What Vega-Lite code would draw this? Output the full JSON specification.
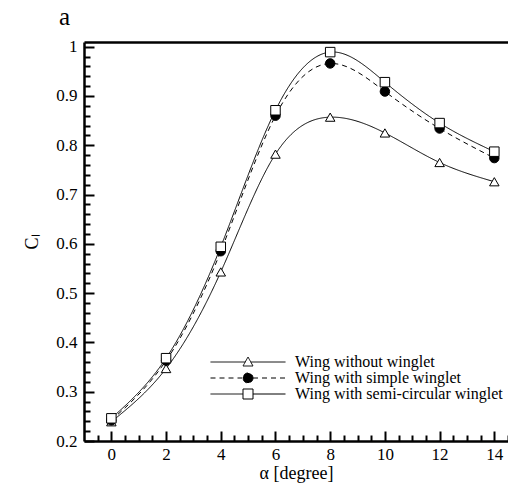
{
  "$schema": "https://vega.github.io/schema/vega-lite/v6.json",
  "width": 424,
  "height": 399,
  "autosize": "none",
  "padding": {"left": 84, "top": 42, "right": 0, "bottom": 51},
  "title": {"text": "a", "anchor": "start", "frame": "group", "dx": -25, "offset": 8, "fontSize": 25, "font": "Liberation Serif", "fontWeight": "normal", "color": "black"},
  "data": {"values": [
    {"alpha": 0, "cl": 0.239, "series": "Wing without winglet"},
    {"alpha": 2, "cl": 0.347, "series": "Wing without winglet"},
    {"alpha": 4, "cl": 0.543, "series": "Wing without winglet"},
    {"alpha": 6, "cl": 0.782, "series": "Wing without winglet"},
    {"alpha": 8, "cl": 0.857, "series": "Wing without winglet"},
    {"alpha": 10, "cl": 0.825, "series": "Wing without winglet"},
    {"alpha": 12, "cl": 0.765, "series": "Wing without winglet"},
    {"alpha": 14, "cl": 0.726, "series": "Wing without winglet"},
    {"alpha": 0, "cl": 0.242, "series": "Wing with simple winglet"},
    {"alpha": 2, "cl": 0.363, "series": "Wing with simple winglet"},
    {"alpha": 4, "cl": 0.585, "series": "Wing with simple winglet"},
    {"alpha": 6, "cl": 0.860, "series": "Wing with simple winglet"},
    {"alpha": 8, "cl": 0.966, "series": "Wing with simple winglet"},
    {"alpha": 10, "cl": 0.909, "series": "Wing with simple winglet"},
    {"alpha": 12, "cl": 0.834, "series": "Wing with simple winglet"},
    {"alpha": 14, "cl": 0.774, "series": "Wing with simple winglet"},
    {"alpha": 0, "cl": 0.246, "series": "Wing with semi-circular winglet"},
    {"alpha": 2, "cl": 0.368, "series": "Wing with semi-circular winglet"},
    {"alpha": 4, "cl": 0.594, "series": "Wing with semi-circular winglet"},
    {"alpha": 6, "cl": 0.871, "series": "Wing with semi-circular winglet"},
    {"alpha": 8, "cl": 0.989, "series": "Wing with semi-circular winglet"},
    {"alpha": 10, "cl": 0.928, "series": "Wing with semi-circular winglet"},
    {"alpha": 12, "cl": 0.845, "series": "Wing with semi-circular winglet"},
    {"alpha": 14, "cl": 0.787, "series": "Wing with semi-circular winglet"}
  ]},
  "layer": [
    {
      "mark": {"type": "line", "interpolate": "natural", "color": "black", "strokeWidth": 1, "clip": true},
      "encoding": {
        "x": {"field": "alpha", "type": "quantitative", "scale": {"domain": [-1, 14.5], "nice": false, "zero": false},
          "axis": {"orient": "bottom", "values": [0, 2, 4, 6, 8, 10, 12, 14], "ticks": false, "domainWidth": 2.5, "domainColor": "black", "labelPadding": 5, "title": "α [degree]", "titlePadding": 2, "labelFlush": false}},
        "y": {"field": "cl", "type": "quantitative", "scale": {"domain": [0.2, 1.0095], "nice": false, "zero": false},
          "axis": {"orient": "left", "values": [0.2, 0.3, 0.4, 0.5, 0.6, 0.7, 0.8, 0.9, 1], "format": "~g", "ticks": false, "domainWidth": 2.5, "domainColor": "black", "labelPadding": 7, "title": "Cₗ", "titlePadding": 14, "labelFlush": false}},
        "detail": {"field": "series"},
        "strokeDash": {"field": "series", "type": "nominal",
          "scale": {"domain": ["Wing without winglet", "Wing with simple winglet", "Wing with semi-circular winglet"], "range": [[1, 0], [5, 4], [1, 0]]},
          "legend": null}
      }
    },
    {
      "mark": {"type": "point", "filled": false, "stroke": "black", "strokeWidth": 1, "opacity": 1, "size": 90},
      "encoding": {
        "x": {"field": "alpha", "type": "quantitative",
          "axis": {"orient": "top", "offset": -399, "values": [0, 2, 4, 6, 8, 10, 12, 14], "labels": false, "domain": false, "ticks": true, "tickSize": 10, "tickWidth": 2, "tickColor": "black", "title": null}},
        "y": {"field": "cl", "type": "quantitative",
          "axis": {"orient": "right", "offset": -424, "values": [0.2, 0.3, 0.4, 0.5, 0.6, 0.7, 0.8, 0.9, 1], "labels": false, "domain": false, "ticks": true, "tickSize": 10, "tickWidth": 2, "tickColor": "black", "title": null}},
        "shape": {"field": "series", "type": "nominal",
          "scale": {"domain": ["Wing without winglet", "Wing with simple winglet", "Wing with semi-circular winglet"], "range": ["triangle-up", "circle", "square"]}, "legend": null},
        "fill": {"field": "series", "type": "nominal",
          "scale": {"domain": ["Wing without winglet", "Wing with simple winglet", "Wing with semi-circular winglet"], "range": ["white", "black", "white"]}, "legend": null}
      }
    },
    {
      "mark": {"type": "point", "opacity": 0},
      "encoding": {
        "x": {"field": "alpha", "type": "quantitative",
          "axis": {"orient": "top", "offset": -399, "values": [-0.5, 0.5, 1, 1.5, 2.5, 3, 3.5, 4.5, 5, 5.5, 6.5, 7, 7.5, 8.5, 9, 9.5, 10.5, 11, 11.5, 12.5, 13, 13.5, 14.5], "labels": false, "domain": false, "ticks": true, "tickSize": 6, "tickWidth": 2, "tickColor": "black", "title": null}},
        "y": {"field": "cl", "type": "quantitative",
          "axis": {"orient": "right", "offset": -424, "values": [0.22, 0.24, 0.26, 0.28, 0.32, 0.34, 0.36, 0.38, 0.42, 0.44, 0.46, 0.48, 0.52, 0.54, 0.56, 0.58, 0.62, 0.64, 0.66, 0.68, 0.72, 0.74, 0.76, 0.78, 0.82, 0.84, 0.86, 0.88, 0.92, 0.94, 0.96, 0.98], "labels": false, "domain": false, "ticks": true, "tickSize": 6, "tickWidth": 2, "tickColor": "black", "title": null}}
      }
    },
    {
      "mark": {"type": "point", "opacity": 0},
      "encoding": {
        "x": {"field": "alpha", "type": "quantitative",
          "axis": {"orient": "top", "labels": false, "ticks": false, "domain": true, "domainWidth": 2.5, "domainColor": "black", "title": null}},
        "y": {"field": "cl", "type": "quantitative", "axis": null}
      }
    },
    {
      "transform": [{"filter": "false"}],
      "mark": {"type": "point", "filled": false, "color": "black", "stroke": "black", "strokeWidth": 1, "opacity": 1},
      "encoding": {
        "x": {"field": "alpha", "type": "quantitative", "axis": null},
        "y": {"field": "cl", "type": "quantitative", "axis": null},
        "shape": {"field": "series", "type": "nominal",
          "scale": {"domain": ["Wing without winglet", "Wing with simple winglet", "Wing with semi-circular winglet"],
            "range": ["M-7.5,0L-0.556,0M0.556,0L7.5,0M0,-1L1,0.8L-1,0.8Z", "M-7.5,0L-1,0M1,0L7.5,0M1,0A1,1,0,1,1,-1,0A1,1,0,1,1,1,0Z", "M-7.5,0L-1,0M1,0L7.5,0M-1,-1L1,-1L1,1L-1,1Z"]},
          "legend": {"orient": "none", "legendX": 156, "legendY": 312, "title": null, "padding": 0, "symbolSize": 100, "labelOffset": 39, "rowPadding": -1.5, "labelFontSize": 16, "labelFont": "Liberation Serif", "labelColor": "black", "labelLimit": 0, "symbolStrokeColor": "black", "symbolStrokeWidth": 1}},
        "fill": {"field": "series", "type": "nominal",
          "scale": {"domain": ["Wing without winglet", "Wing with simple winglet", "Wing with semi-circular winglet"], "range": ["white", "black", "white"]},
          "legend": {"orient": "none", "legendX": 156, "legendY": 312, "title": null, "padding": 0, "symbolSize": 100, "labelOffset": 39, "rowPadding": -1.5, "labelFontSize": 16, "labelFont": "Liberation Serif", "labelColor": "black", "labelLimit": 0, "symbolStrokeColor": "black", "symbolStrokeWidth": 1}},
        "stroke": {"field": "series", "type": "nominal",
          "scale": {"domain": ["Wing without winglet", "Wing with simple winglet", "Wing with semi-circular winglet"], "range": ["black", "black", "black"]},
          "legend": {"orient": "none", "legendX": 156, "legendY": 312, "title": null, "padding": 0, "symbolSize": 100, "labelOffset": 39, "rowPadding": -1.5, "labelFontSize": 16, "labelFont": "Liberation Serif", "labelColor": "black", "labelLimit": 0, "symbolStrokeColor": "black", "symbolStrokeWidth": 1}},
        "strokeDash": {"field": "series", "type": "nominal",
          "scale": {"domain": ["Wing without winglet", "Wing with simple winglet", "Wing with semi-circular winglet"], "range": [[1, 0], [5, 4], [1, 0]]},
          "legend": {"orient": "none", "legendX": 156, "legendY": 312, "title": null, "padding": 0, "symbolSize": 100, "labelOffset": 39, "rowPadding": -1.5, "labelFontSize": 16, "labelFont": "Liberation Serif", "labelColor": "black", "labelLimit": 0, "symbolStrokeColor": "black", "symbolStrokeWidth": 1}}
      }
    }
  ],
  "resolve": {"axis": {"x": "independent", "y": "independent"}, "scale": {"shape": "independent", "fill": "independent", "stroke": "independent", "strokeDash": "independent"}},
  "config": {
    "view": {"stroke": null},
    "axis": {"labelFont": "Liberation Serif", "titleFont": "Liberation Serif", "labelColor": "black", "titleColor": "black", "domainColor": "black", "tickColor": "black", "grid": false, "labelFontSize": 17, "titleFontSize": 18, "titleFontWeight": "normal"}
  }
}
